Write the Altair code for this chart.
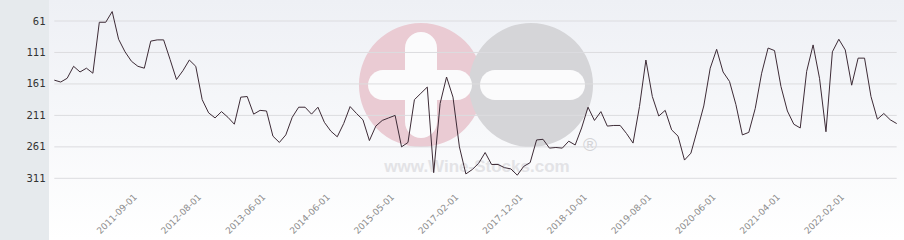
import altair as alt
import pandas as pd

# ---- data ----
ranks = [155, 158, 152, 133, 142, 136, 144, 63, 63, 46,
         90, 110, 125, 133, 136, 93, 91, 91, 122, 154,
         140, 123, 133, 186, 207, 215, 205, 214, 225, 182,
         181, 209, 203, 204, 244, 254, 242, 214, 198, 198,
         209, 198, 222, 236, 245, 224, 197, 208, 218, 251,
         228, 219, 215, 211, 261, 254, 186, 176, 166, 302,
         192, 150, 182, 261, 304, 297, 287, 270, 289, 289,
         294, 296, 306, 292, 286, 250, 249, 263, 262, 263,
         252, 258, 231, 198, 219, 205, 228, 227, 227, 240,
         255, 197, 123, 181, 212, 203, 234, 244, 282, 271,
         234, 196, 136, 106, 142, 157, 194, 242, 238, 200,
         144, 104, 108, 165, 204, 225, 231, 141, 99, 152,
         237, 110, 90, 107, 163, 120, 120, 181, 217, 208,
         218, 224]
tick_positions = [13, 23, 33, 43, 53, 63, 73, 83, 93, 103, 113, 123]
tick_labels = ["2011-09-01", "2012-08-01", "2013-06-01", "2014-06-01",
               "2015-05-01", "2017-02-01", "2017-12-01", "2018-10-01",
               "2019-08-01", "2020-06-01", "2021-04-01", "2022-02-01"]
y_ticks = [61, 111, 161, 211, 261, 311]

W, H = 855, 240
x_scale = alt.Scale(domain=[-0.8242, 132.136], nice=False, zero=False)
y_scale = alt.Scale(domain=[27.63, 409.0], reverse=True, nice=False, zero=False)

df = pd.DataFrame({"i": list(range(len(ranks))), "rank": ranks})
grid_df = pd.DataFrame({"v": y_ticks})
one = pd.DataFrame({"a": [0]})

label_arr = "[" + ",".join("'%s'" % s for s in tick_labels) + "]"
label_expr = label_arr + "[round((datum.value-13)/10)]"

bg = alt.Chart(one).mark_rect(
    fill=alt.Gradient(gradient="linear",
                      stops=[alt.GradientStop(color="#eef0f5", offset=0),
                             alt.GradientStop(color="#ffffff", offset=1)],
                      x1=0, x2=0, y1=0, y2=1)
).encode(x=alt.value(0), x2=alt.value(W), y=alt.value(0), y2=alt.value(H))

# watermark
pink = alt.Chart(one).mark_circle(color="#eacbd3", opacity=1, size=15394).encode(
    x=alt.value(372), y=alt.value(85))
gray = alt.Chart(one).mark_circle(color="#d5d5d8", opacity=1, size=15394).encode(
    x=alt.value(482), y=alt.value(85))
plus_v = alt.Chart(one).mark_rect(color="#fbfbfc", cornerRadius=16).encode(
    x=alt.value(356), x2=alt.value(388), y=alt.value(32), y2=alt.value(138))
plus_h = alt.Chart(one).mark_rect(color="#fbfbfc", cornerRadius=15).encode(
    x=alt.value(319), x2=alt.value(423), y=alt.value(70), y2=alt.value(100))
minus = alt.Chart(one).mark_rect(color="#fbfbfc", cornerRadius=15).encode(
    x=alt.value(431), x2=alt.value(536), y=alt.value(70), y2=alt.value(100))
wm_text = alt.Chart(one).mark_text(text="www.Wine-Stocks.com", font="Liberation Sans",
                                   fontWeight="bold", fontSize=17, color="#e3e3e6").encode(
    x=alt.value(428), y=alt.value(167))
reg = alt.Chart(one).mark_text(text="®", font="Liberation Sans", fontSize=19,
                               color="#d3d3d6").encode(x=alt.value(541), y=alt.value(145))

grid = alt.Chart(grid_df).mark_rule(color="#dcdcdf", strokeWidth=1).encode(
    y=alt.Y("v:Q", scale=y_scale),
    x=alt.datum(0, scale=x_scale),
    x2=alt.datum(131),
)

line = alt.Chart(df).mark_line(color="#3d2b36", strokeWidth=1).encode(
    x=alt.X("i:Q", scale=x_scale,
            axis=alt.Axis(values=tick_positions, labelExpr=label_expr, title=None,
                          grid=False, ticks=False, tickSize=0, domain=False,
                          labelAngle=-45, labelAlign="right", labelBaseline="middle",
                          labelFont="DejaVu Sans", labelFontSize=9, labelColor="#8c8c8c",
                          labelPadding=4, labelOffset=-3, offset=-49, labelOverlap=False,
                          zindex=2)),
    y=alt.Y("rank:Q", scale=y_scale,
            axis=alt.Axis(values=y_ticks, title=None, grid=False, ticks=False, tickSize=0,
                          domain=False, labelFont="DejaVu Sans Mono", labelFontSize=10.5,
                          labelColor="#333333", labelPadding=4, zindex=2)),
)

chart = alt.layer(bg, pink, gray, plus_v, plus_h, minus, wm_text, reg, grid, line).properties(
    width=W, height=H,
    autosize=alt.AutoSizeParams(type="none"),
    padding={"left": 49, "top": 0, "right": 0, "bottom": 0},
    background="#e6eaed",
).configure_view(stroke=None)

chart.save("out.html", embed_options={"renderer": "svg", "actions": False})
